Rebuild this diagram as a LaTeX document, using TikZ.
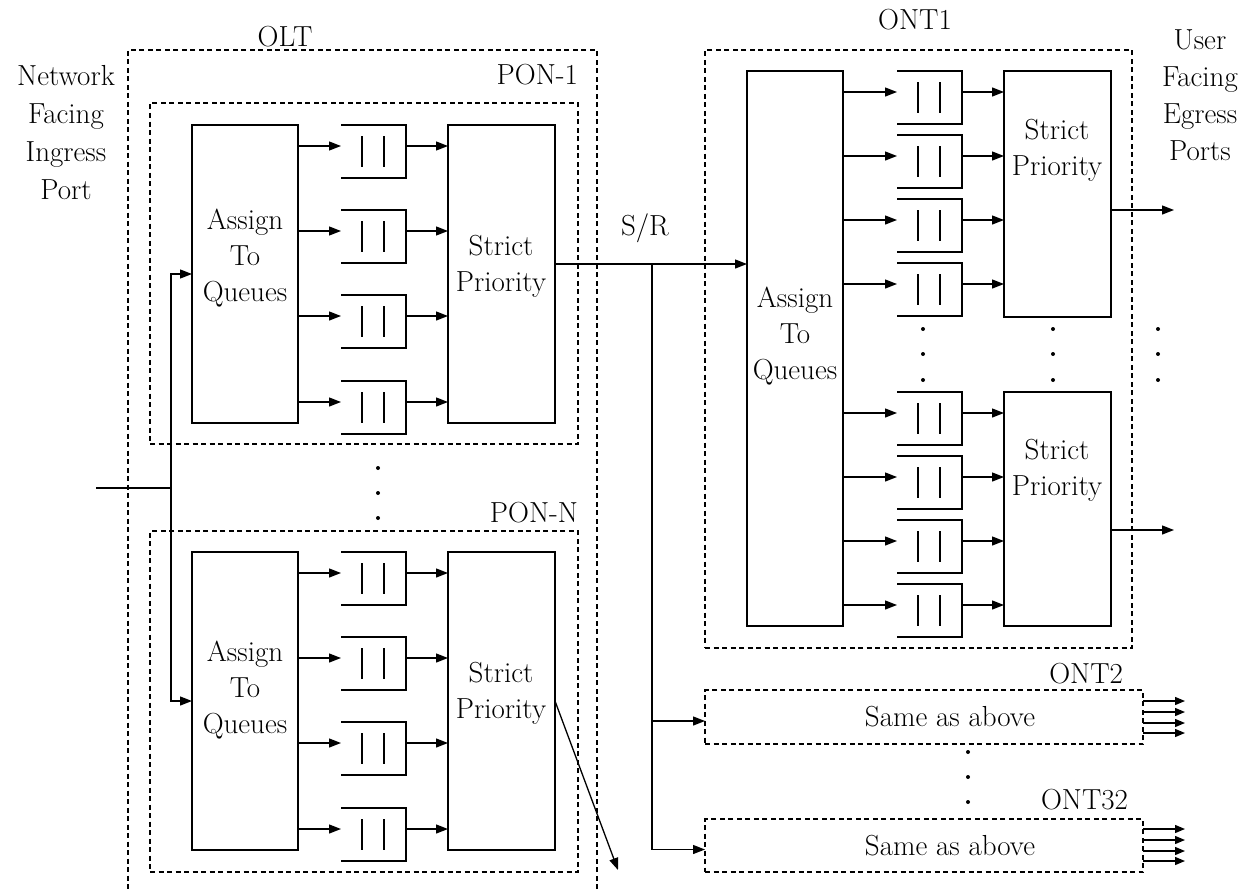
\documentclass[tikz,border=0pt]{standalone}
\usetikzlibrary{arrows.meta,calc}
\newcommand\myqueue[3]{%
  \node[anchor=north west, minimum width=65pt, minimum height=53pt] (#1) at (#2,{#3-21}) {};
  \coordinate (#1-in) at (#2,#3);
  \coordinate (#1-out) at ({#2+65},#3);
  \draw[ln] (#1.north west) -- (#1.north east) -- (#1.south east) -- (#1.south west);
  \draw[ln] ($(#1.north west)+(21,11)$) -- ($(#1.south west)+(21,-11)$);
  \draw[ln] ($(#1.north west)+(43,11)$) -- ($(#1.south west)+(43,-11)$);
}
\begin{document}
\begin{tikzpicture}[x=1pt,y=-1pt,
  every node/.style={font=\fontsize{29}{36}\selectfont, inner sep=0pt, outer sep=0pt},
  blk/.style={draw, line width=1.3pt, anchor=north west},
  dbox/.style={draw, dash pattern=on 5pt off 3.5pt, line width=1.1pt, anchor=north west},
  ln/.style={line width=1.3pt},
  arr/.style={line width=1.3pt, -{Triangle[length=12pt,width=9pt]}},
  sarr/.style={line width=1.3pt, -{Triangle[length=10pt,width=8pt]}},
  dotc/.style={circle, fill, inner sep=0pt, minimum size=4pt},
  txt/.style={align=center}
]
\useasboundingbox (0,0) rectangle (1242,891);

% containers
\node[dbox, minimum width=469pt, minimum height=880pt] (olt) at (128,50) {};
\node[dbox, minimum width=428pt, minimum height=341pt] (pon1) at (150,103) {};
\node[dbox, minimum width=428pt, minimum height=341pt] (ponn) at (150,531) {};
\node[dbox, minimum width=427pt, minimum height=598pt] (ont1) at (705,50) {};
\node[dbox, minimum width=438pt, minimum height=54pt] (ont2) at (705,690) {};
\node[dbox, minimum width=438pt, minimum height=53pt] (ont32) at (705,819) {};

% blocks
\node[blk, minimum width=106pt, minimum height=298pt] (a1) at (192,125) {};
\node[blk, minimum width=107pt, minimum height=298pt] (s1) at (448,125) {};
\node[blk, minimum width=106pt, minimum height=298pt] (aN) at (192,552) {};
\node[blk, minimum width=107pt, minimum height=298pt] (sN) at (448,552) {};
\node[blk, minimum width=96pt, minimum height=555pt] (ao) at (747,71) {};
\node[blk, minimum width=107pt, minimum height=246pt] (su) at (1004,71) {};
\node[blk, minimum width=107pt, minimum height=234pt] (sl) at (1004,392) {};

% block texts
\node[txt] (a1t) at (245,258) {Assign\\To\\Queues};
\node[txt] (s1t) at (501,266) {Strict\\Priority};
\node[txt] (aNt) at (245,690) {Assign\\To\\Queues};
\node[txt] (sNt) at (501,693) {Strict\\Priority};
\node[txt] (aot) at (795,336) {Assign\\To\\Queues};
\node[txt] (sut) at (1057,150) {Strict\\Priority};
\node[txt] (slt) at (1057,470) {Strict\\Priority};
\node (o2t) at (950,717) {Same as above};
\node (o32t) at (950,846) {Same as above};

% queues PON-1
\foreach \yy [count=\i] in {146,231,316,402} {
  \myqueue{pa\i}{341}{\yy}
  \draw[arr] (a1.east |- pa\i-in) -- (pa\i-in);
  \draw[arr] (pa\i-out) -- (s1.west |- pa\i-out);
}
% queues PON-N
\foreach \yy [count=\i] in {573,658,743,829} {
  \myqueue{pb\i}{341}{\yy}
  \draw[arr] (aN.east |- pb\i-in) -- (pb\i-in);
  \draw[arr] (pb\i-out) -- (sN.west |- pb\i-out);
}
% queues ONT1 upper
\foreach \yy [count=\i] in {92,156,220,284} {
  \myqueue{qu\i}{897}{\yy}
  \draw[arr] (ao.east |- qu\i-in) -- (qu\i-in);
  \draw[arr] (qu\i-out) -- (su.west |- qu\i-out);
}
% queues ONT1 lower
\foreach \yy [count=\i] in {413,477,541,605} {
  \myqueue{ql\i}{897}{\yy}
  \draw[arr] (ao.east |- ql\i-in) -- (ql\i-in);
  \draw[arr] (ql\i-out) -- (sl.west |- ql\i-out);
}

% input
\coordinate (inp) at (96,488);
\coordinate (fb) at (171,488);
\draw[ln] (inp) -- (fb);
\draw[arr] (fb) |- (a1.west);
\draw[arr] (fb) |- (aN.west);

% S/R
\coordinate (sr) at (652,264);
\draw[arr] ($(s1.east)+(0,-10)$) -- (ao.west |- sr);
\draw[arr] (sr) |- ($(ont2.west)+(0,4)$);
\draw[arr] (sr) |- ($(ont32.west)+(0,4)$);
\coordinate (dend) at (618,870);
\draw[arr] (sN.east) -- (dend);

% ONT1 outputs
\coordinate (o1) at (1174,210);
\coordinate (o2) at (1174,530);
\draw[arr] ($(su.east)+(0,16)$) -- (o1);
\draw[arr] ($(sl.east)+(0,21)$) -- (o2);

% ONT2 / ONT32 outputs
\foreach \yy in {701,712,723,733} {
  \draw[sarr] (ont2.east |- 0,\yy) -- (1185,\yy);
}
\foreach \yy in {829,840,851,861} {
  \draw[sarr] (ont32.east |- 0,\yy) -- (1185,\yy);
}

% dots
\foreach \yy in {468,493,518} { \node[dotc] at (378,\yy) {}; }
\foreach \yy in {329,354,380} {
  \node[dotc] at (923,\yy) {};
  \node[dotc] at (1053,\yy) {};
  \node[dotc] at (1158,\yy) {};
}
\foreach \yy in {752,777,802} { \node[dotc] at (968,\yy) {}; }

% labels
\node (oltl) at (285,37) {OLT};
\node[txt, font=\fontsize{29}{38}\selectfont] (nfip) at (66,133) {Network\\Facing\\Ingress\\Port};
\node[anchor=east] (p1l) at (578,75) {PON-1};
\node[anchor=east] (pnl) at (578,513) {PON-N};
\node (ont1l) at (915,20) {ONT1};
\node[txt, font=\fontsize{29}{37}\selectfont] (ufep) at (1200,95) {User\\Facing\\Egress\\Ports};
\node (srl) at (645,228) {S/R};
\node[anchor=east] (o2l) at (1123,674) {ONT2};
\node[anchor=east] (o32l) at (1128,800) {ONT32};
\end{tikzpicture}
\end{document}
